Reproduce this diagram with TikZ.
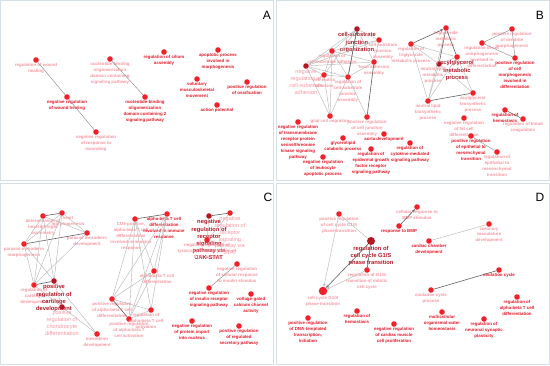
\documentclass[tikz,border=0pt]{standalone}
\usepackage{fontspec}
\setmainfont{Liberation Sans}
\usetikzlibrary{positioning, arrows.meta}

\definecolor{dotred}{RGB}{242,32,40}
\definecolor{sigred}{RGB}{228,22,36}
\definecolor{faintred}{RGB}{246,150,160}
\definecolor{hubred}{RGB}{180,22,36}
\definecolor{framegray}{RGB}{212,224,230}

\begin{document}
\begin{tikzpicture}[
    x=1pt, y=-1pt,
    >={Stealth[length=3pt, width=2.6pt]},
    term/.style={circle, fill=dotred, inner sep=0pt, minimum size=5.6pt},
    hubterm/.style={term, fill=hubred},
    bigterm/.style={term, minimum size=8.5pt},
    siglbl/.style={font=\bfseries\fontsize{4.4}{5.9}\selectfont, text=sigred,
                   align=center, inner sep=0.5pt},
    faintlbl/.style={siglbl, text=faintred},
    hublbl/.style={font=\bfseries\fontsize{5.8}{7.2}\selectfont, text=hubred,
                   align=center, inner sep=0.5pt},
    bigfaint/.style={hublbl, font=\fontsize{5.6}{6.8}\selectfont, text=faintred},
    link/.style={draw=black!28, line width=0.45pt},
    strong/.style={draw=black!62, line width=0.6pt},
    panel/.style={draw=framegray, line width=0.8pt},
    tag/.style={font=\fontsize{12}{12}\selectfont, text=black},
]
\useasboundingbox (0,0) rectangle (550,365);

% Frames
\draw[panel] (0.5,0.5) rectangle (273.5,180.5);
\draw[panel] (276.5,0.5) rectangle (549.5,180.5);
\draw[panel] (0.5,183.5) rectangle (273.5,364.5);
\draw[panel] (276.5,183.5) rectangle (549.5,364.5);
\node[tag] (tagA) at (267,15) {A};
\node[tag] (tagB) at (540,15) {B};
\node[tag] (tagC) at (268,197) {C};
\node[tag] (tagD) at (540,197) {D};

% Panel A
\node[term, label={[faintlbl]below:{regulation of wound\\healing}}] (woundR) at (36,60) {};
\node[term, label={[siglbl]below:{negative regulation\\of wound healing}}] (woundNeg) at (67,97) {};
\node[term, label={[faintlbl]below:{negative regulation\\of response to\\wounding}}] (woundResp) at (96,132) {};
\node[term, label={[faintlbl]below:{nucleotide-binding\\oligomerization\\domain containing\\signaling pathway}}] (nodSig) at (110,59) {};
\node[term, label={[siglbl]below:{nucleotide-binding\\oligomerization\\domain containing 2\\signaling pathway}}] (nodTwo) at (145,97) {};
\node[term, label={[siglbl]below:{regulation of cilium\\assembly}}] (cilium) at (164,52) {};
\node[term, label={[siglbl]below:{apoptotic process\\involved in\\morphogenesis}}] (apoMorph) at (218,50) {};
\node[term, label={[siglbl]below:{voluntary\\musculoskeletal\\movement}}] (voluntary) at (197,79) {};
\node[term, label={[siglbl]below:{positive regulation\\of ossification}}] (ossif) at (247,82) {};
\node[term, label={[siglbl]below:{action potential}}] (actionPot) at (217,105) {};

\draw[link, draw=black!45] (woundR) -- (woundNeg);
\draw[link, draw=black!45] (woundNeg) -- (woundResp);
\draw[link, draw=black!45] (nodSig) -- (nodTwo);

% Panel B, cell-substrate cluster
\node[hubterm, label={[hublbl]below:{cell-substrate\\junction\\organization}}] (csjOrg) at (357,29) {};
\node[term, label={[faintlbl, xshift=4pt]below:{cell-substrate\\junction\\assembly}}] (csjAsm) at (379,40) {};
\node[term, label={[faintlbl]below:{regulation of\\cell-substrate adhesion}}] (csAdhR) at (332,51) {};
\node[term, label={[faintlbl]below:{focal adhesion\\assembly}}] (focalAsm) at (374,62) {};
\node[hubterm, label={[bigfaint]below:{negative\\regulation of\\cell-substrate\\adhesion}}] (csAdhNeg) at (306,66) {};
\node[term, label={[faintlbl]below:{cell-matrix\\adhesion}}] (matrixAdh) at (324,75) {};
\node[term, label={[faintlbl]below:{regulation of\\cell-substrate\\junction\\assembly}}] (csjAsmR) at (348,77) {};
\node[term, label={[faintlbl]below:{glial cell migration}}] (glial) at (330,116) {};
\node[term, label={[faintlbl]below:{positive regulation\\of cell junction\\assembly}}] (cjAsmPos) at (367,117) {};

\draw[link] (csjOrg) -- (csjAsm);
\draw[link] (csjOrg) -- (csAdhR);
\draw[link] (csjOrg) -- (csAdhNeg);
\draw[link] (csjOrg) -- (focalAsm);
\draw[link] (csjOrg) -- (csjAsmR);
\draw[link] (csjOrg) -- (matrixAdh);
\draw[link] (csjAsm) -- (csAdhNeg);
\draw[link] (csjAsm) -- (csAdhR);
\draw[link] (csjAsm) -- (focalAsm);
\draw[link] (csAdhR) -- (csAdhNeg);
\draw[link] (csAdhR) -- (matrixAdh);
\draw[link] (csAdhR) -- (csjAsmR);
\draw[link] (csAdhR) -- (focalAsm);
\draw[link] (csAdhNeg) -- (matrixAdh);
\draw[link] (csAdhNeg) -- (csjAsmR);
\draw[link] (csAdhNeg) -- (focalAsm);
\draw[link] (matrixAdh) -- (csjAsmR);
\draw[link] (focalAsm) -- (csjAsmR);
\draw[link] (csAdhNeg) -- (glial);
\draw[link] (matrixAdh) -- (glial);
\draw[link] (csjAsmR) -- (glial);
\draw[link] (csAdhR) -- (glial);
\draw[strong] (focalAsm) -- (cjAsmPos);
\draw[link] (csjAsmR) -- (cjAsmPos);
\draw[strong, ->] (csjAsmR) -- (csjOrg);

% Panel B, acylglycerol cluster
\node[term, label={[faintlbl]below:{triglyceride\\metabolic\\process}}] (tgMet) at (446,28) {};
\node[term, label={[faintlbl]below:{regulation of\\triglyceride\\metabolic process}}] (tgMetR) at (411,44) {};
\node[term, label={[hublbl]below:{acylglycerol\\metabolic\\process}}] (acylMet) at (457,57) {};
\node[hubterm, label={[faintlbl, xshift=-6pt]below:{neutral lipid\\metabolic\\process}}] (nlMet) at (439,64) {};
\node[term, label={[faintlbl]below:{acylglycerol\\biosynthetic\\process}}] (acylBio) at (473,93) {};
\node[term, label={[faintlbl]below:{neutral lipid\\biosynthetic\\process}}] (nlBio) at (428,101) {};

\draw[strong, ->] (tgMetR) -- (tgMet);
\draw[link] (tgMetR) -- (acylMet);
\draw[link] (tgMetR) -- (nlMet);
\draw[link] (tgMetR) -- (nlBio);
\draw[strong] (tgMet) -- (acylMet);
\draw[strong] (tgMet) -- (nlMet);
\draw[link] (tgMet) -- (nlBio);
\draw[link] (acylMet) -- (nlMet);
\draw[link] (acylMet) -- (acylBio);
\draw[link] (acylMet) -- (nlBio);
\draw[link] (nlMet) -- (acylBio);
\draw[link] (nlMet) -- (nlBio);
\draw[strong] (nlBio) -- (acylBio);

% Panel B, morphogenesis cluster
\node[term, label={[faintlbl]below:{positive regulation\\of dendrite\\morphogenesis}}] (dendrite) at (512,29) {};
\node[term, label={[faintlbl]below:{regulation of cell\\morphogenesis\\involved in\\differentiation}}] (morphR) at (482,43) {};
\node[term, label={[siglbl]below:{positive regulation\\of cell\\morphogenesis\\involved in\\differentiation}}] (morphPos) at (515,58) {};

\draw[link, draw=black!45] (dendrite) -- (morphR);
\draw[link, draw=black!45] (morphR) -- (morphPos);
\draw[link, draw=black!45] (dendrite) -- (morphPos);

% Panel B, other terms
\node[term, label={[siglbl]below:{negative regulation\\of transmembrane\\receptor protein\\serine/threonine\\kinase signaling\\pathway}}] (tmRec) at (298,122) {};
\node[term, label={[siglbl]below:{glycerolipid\\catabolic process}}] (glyCat) at (343,138) {};
\node[term, label={[siglbl]below:{aorta development}}] (aorta) at (384,134) {};
\node[term, label={[siglbl]below:{regulation of\\cytokine-mediated\\signaling pathway}}] (cytokine) at (410,143) {};
\node[term, label={[siglbl]below:{regulation of\\epidermal growth\\factor receptor\\signaling pathway}}] (egfr) at (371,149) {};
\node[term, label={[siglbl]below:{negative regulation\\of leukocyte\\apoptotic process}}] (leuko) at (323,157) {};
\node[term, label={[faintlbl]below:{negative regulation\\of fat cell\\differentiation}}] (fatCell) at (464,118) {};
\node[term, label={[siglbl]below:{positive regulation\\of epithelial to\\mesenchymal\\transition}}] (emtPos) at (471,136) {};
\node[term, label={[faintlbl]below:{regulation of\\epithelial to\\mesenchymal\\transition}}] (emtR) at (497,152) {};
\node[term, label={[siglbl]below:{regulation of\\hemostasis}}] (hemoB) at (505,110) {};
\node[term, label={[faintlbl]below:{regulation of blood\\coagulation}}] (coag) at (523,119) {};

\draw[link, draw=black!45] (emtPos) -- (emtR);
\draw[strong] (hemoB) -- (coag);

% Panel C, cartilage cluster
\node[term, label={[faintlbl]below:{determination of\\heart left/right\\asymmetry}}] (leftRight) at (43,216) {};
\node[term, label={[faintlbl, xshift=6pt]below:{heart\\morphogenesis}}] (heartMorph) at (62,213) {};
\node[term, label={[faintlbl]below:{paraxial mesoderm\\development}}] (paraxDev) at (87,233) {};
\node[term, label={[faintlbl]below:{paraxial mesoderm\\morphogenesis}}] (paraxMorph) at (24,244) {};
\node[term, label={[faintlbl]below:{regulation of\\cartilage\\development}}] (cartR) at (34,285) {};
\node[hubterm, label={[hublbl]below:{positive\\regulation of\\cartilage\\development}}] (cartPos) at (54,281) {};
\node[hubterm, label={[bigfaint]below:{positive\\regulation of\\chondrocyte\\differentiation}}] (chondro) at (62,307) {};
\node[term, label={[faintlbl]below:{mesoderm\\development}}] (mesoDev) at (97,334) {};

\draw[strong] (leftRight) -- (heartMorph);
\draw[link] (leftRight) -- (paraxDev);
\draw[link] (heartMorph) -- (paraxDev);
\draw[link] (heartMorph) -- (paraxMorph);
\draw[link] (leftRight) -- (paraxMorph);
\draw[strong] (paraxMorph) -- (paraxDev);
\draw[link] (paraxMorph) -- (cartR);
\draw[link] (leftRight) -- (cartR);
\draw[link] (heartMorph) -- (cartR);
\draw[link] (leftRight) -- (cartPos);
\draw[link] (heartMorph) -- (cartPos);
\draw[link] (paraxDev) -- (cartR);
\draw[link] (paraxMorph) -- (cartPos);
\draw[strong] (cartR) -- (cartPos);
\draw[link] (cartPos) -- (chondro);
\draw[link] (cartR) -- (chondro);
\draw[link] (chondro) -- (mesoDev);
\draw[link] (cartPos) -- (mesoDev);

% Panel C, T cell cluster
\node[term, label={[faintlbl, xshift=-4pt]below:{CD4-positive,\\alpha-beta T cell\\differentiation\\involved in immune\\response}}] (cdFour) at (135,219) {};
\node[term, label={[siglbl, xshift=-3pt]below:{alpha-beta T cell\\differentiation\\involved in immune\\response}}] (abImm) at (167,214) {};
\node[term, label={[faintlbl, xshift=3pt]below:{alpha-beta T cell\\differentiation}}] (abDiff) at (154,271) {};
\node[term, label={[faintlbl]below:{positive regulation\\of alpha-beta T cell\\differentiation}}] (abDiffPos) at (112,299) {};
\node[term, label={[faintlbl]below:{positive regulation\\of alpha-beta T\\cell activation}}] (abActPos) at (129,319) {};
\node[term, label={[faintlbl, xshift=-5pt]below:{regulation of\\alpha-beta T cell\\activation}}] (abActR) at (151,310) {};

\draw[strong] (cdFour) -- (abImm);
\draw[link] (cdFour) -- (abDiffPos);
\draw[link] (cdFour) -- (abActPos);
\draw[link] (cdFour) -- (abActR);
\draw[link] (cdFour) -- (abDiff);
\draw[link] (abImm) -- (abDiff);
\draw[link] (abImm) -- (abDiffPos);
\draw[link] (abImm) -- (abActPos);
\draw[link] (abImm) -- (abActR);
\draw[link, ->] (abDiffPos) -- (abDiff);
\draw[link] (abDiff) -- (abActPos);
\draw[strong] (abDiffPos) -- (abActPos);
\draw[link] (abDiffPos) -- (abActR);
\draw[link] (abActPos) -- (abActR);

% Panel C, JAK-STAT cluster
\node[hubterm, label={[hublbl]below:{negative\\regulation of\\receptor\\signaling\\pathway via\\JAK-STAT}}] (jakStat) at (209,216) {};
\node[term, label={[bigfaint]below:{negative\\regulation of\\receptor\\signaling\\pathway via\\STAT}}] (viaStat) at (230,213) {};
\node[term, label={[faintlbl]below:{negative regulation of\\tyrosine phosphorylation of\\STAT protein}}] (statPhos) at (207,240) {};

\draw[strong] (jakStat) -- (viaStat);
\draw[link] (jakStat) -- (statPhos);
\draw[link] (viaStat) -- (statPhos);

% Panel C, other terms
\node[term, label={[faintlbl]below:{negative regulation\\of cellular response\\to insulin stimulus}}] (insulinResp) at (237,264) {};
\node[term, label={[siglbl]below:{negative regulation\\of insulin receptor\\signaling pathway}}] (insulinRec) at (209,288) {};
\node[term, label={[siglbl]below:{voltage-gated\\calcium channel\\activity}}] (calcium) at (251,294) {};
\node[term, label={[siglbl]below:{negative regulation\\of protein import\\into nucleus}}] (nucImport) at (192,321) {};
\node[term, label={[siglbl]below:{positive regulation\\of regulated\\secretory pathway}}] (secretory) at (239,326) {};

\draw[link, draw=black!45] (insulinResp) -- (insulinRec);

% Panel D
\node[term, label={[faintlbl]below:{positive regulation\\of cell cycle G1/S\\phase transition}}] (gOnePos) at (339,214) {};
\node[hubterm, minimum size=8pt, label={[hublbl]below:{regulation of\\cell cycle G1/S\\phase transition}}] (gOneR) at (371,241) {};
\node[term, label={[faintlbl]below:{regulation of G1/S\\transition of mitotic\\cell cycle}}] (gOneMit) at (367,270) {};
\node[bigterm, label={[faintlbl]below:{cell cycle G1/S\\phase transition}}] (gOne) at (323,291) {};

\draw[link] (gOnePos) -- (gOneR);
\draw[link, ->] (gOnePos) -- (gOne);
\draw[strong, ->] (gOneR) -- (gOne);
\draw[link, ->] (gOneMit) -- (gOne);
\draw[strong] (gOneR) -- (gOneMit);

\node[term, label={[faintlbl]below:{cellular response to\\BMP stimulus}}] (bmpStim) at (417,207) {};
\node[term, label={[siglbl]below:{response to BMP}}] (bmpResp) at (399,226) {};
\node[term, label={[siglbl]below:{cardiac chamber\\development}}] (chamber) at (429,241) {};
\node[term, label={[faintlbl]below:{coronary\\vasculature\\development}}] (coronary) at (489,224) {};
\node[term, label={[siglbl]below:{ovulation cycle}}] (ovul) at (499,270) {};
\node[term, label={[faintlbl]below:{ovulation cycle\\process}}] (ovulProc) at (431,290) {};

\draw[strong, ->] (bmpResp) -- (bmpStim);
\draw[link] (chamber) -- (coronary);
\draw[strong] (ovulProc) -- (ovul);

\node[term, label={[siglbl]below:{regulation of\\alpha-beta T cell\\differentiation}}] (abDiffD) at (517,297) {};
\node[term, label={[siglbl]below:{multicellular\\organismal water\\homeostasis}}] (water) at (442,312) {};
\node[term, label={[siglbl]below:{regulation of\\neuronal synaptic\\plasticity}}] (synaptic) at (484,319) {};
\node[term, label={[siglbl]below:{negative regulation\\of cardiac muscle\\cell proliferation}}] (cardMuscle) at (394,324) {};
\node[term, label={[siglbl]below:{regulation of\\hemostasis}}] (hemoD) at (357,311) {};
\node[term, label={[siglbl]below:{positive regulation\\of DNA-templated\\transcription,\\initiation}}] (dnaTrans) at (308,318) {};

\end{tikzpicture}
\end{document}
